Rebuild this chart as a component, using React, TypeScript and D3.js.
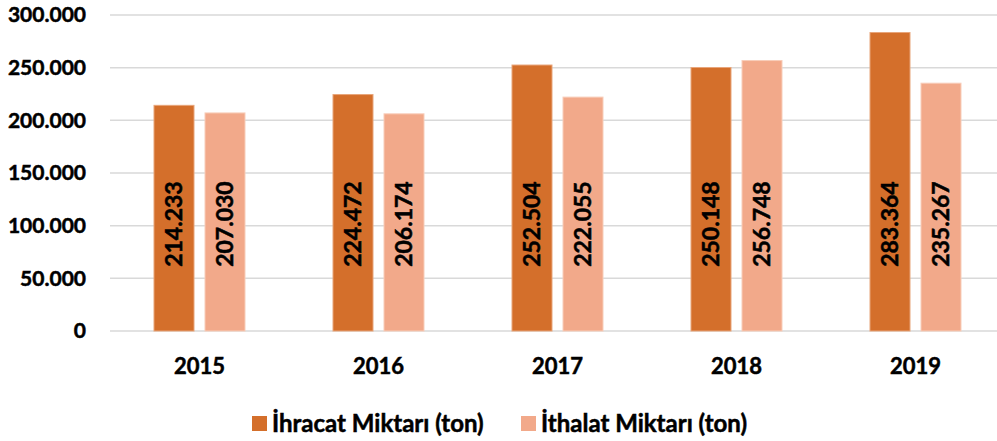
import React, { useEffect, useRef } from "react";
import * as d3 from "d3";

const years = ["2015", "2016", "2017", "2018", "2019"];
const ihracat = [214233, 224472, 252504, 250148, 283364];
const ithalat = [207030, 206174, 222055, 256748, 235267];
const seriesNames = ["İhracat Miktarı (ton)", "İthalat Miktarı (ton)"];
const yTicks = [0, 50000, 100000, 150000, 200000, 250000, 300000];

const colors = ["#D46F2B", "#F2A98A"];
const font = "Lato, 'Open Sans', sans-serif";

export default function App() {
  const ref = useRef<SVGSVGElement>(null);

  useEffect(() => {
    const width = 997;
    const height = 441;
    const svg = d3.select(ref.current);
    svg.selectAll("*").remove();

    const x = d3.scaleBand().domain(years).range([110, 1005]);
    const y = d3.scaleLinear().domain([0, 300000]).range([331, 15]);
    const fmt = (v: number) => d3.format(",")(v).replace(/,/g, ".");

    const bold = (sel: any, size: number) =>
      sel
        .style("font-family", font)
        .style("font-weight", "bold")
        .style("font-size", `${size}px`)
        .attr("fill", "#000")
        .attr("stroke", "#000")
        .attr("stroke-width", 0.5);

    // grid
    svg
      .append("g")
      .selectAll("line")
      .data(yTicks)
      .enter()
      .append("line")
      .attr("x1", 110)
      .attr("x2", width)
      .attr("y1", (d) => y(d))
      .attr("y2", (d) => y(d))
      .attr("stroke", "#d9d9d9")
      .attr("stroke-width", 1.5);

    // y labels
    svg
      .append("g")
      .selectAll("text")
      .data(yTicks)
      .enter()
      .append("text")
      .attr("x", 86)
      .attr("y", (d) => y(d))
      .attr("dy", "0.35em")
      .attr("text-anchor", "end")
      .call(bold, 21)
      .text((d) => fmt(d));

    const barW = 40;
    const gap = 11;
    const series = [ihracat, ithalat];

    series.forEach((vals, si) => {
      const g = svg.append("g");
      const xOff = (i: number) =>
        x(years[i])! + x.bandwidth() / 2 - (barW * 2 + gap) / 2 + si * (barW + gap);

      g.selectAll("rect")
        .data(vals)
        .enter()
        .append("rect")
        .attr("x", (d, i) => xOff(i))
        .attr("y", (d) => y(d))
        .attr("width", barW)
        .attr("height", (d) => y(0) - y(d))
        .attr("fill", colors[si])
        .attr("stroke", si === 0 ? "#e8a57a" : "#f8cdb9")
        .attr("stroke-width", 1);

      g.selectAll("text")
        .data(vals)
        .enter()
        .append("text")
        .attr(
          "transform",
          (d, i) => `translate(${xOff(i) + barW / 2},${y(101500)}) rotate(-90)`
        )
        .attr("text-anchor", "middle")
        .attr("dy", "0.35em")
        .call(bold, 23)
        .text((d) => fmt(d));
    });

    // x labels
    svg
      .append("g")
      .selectAll("text")
      .data(years)
      .enter()
      .append("text")
      .attr("x", (d) => x(d)! + x.bandwidth() / 2)
      .attr("y", 374)
      .attr("text-anchor", "middle")
      .call(bold, 22)
      .text((d) => d);

    // legend
    const legendX = [252, 521];
    const legend = svg
      .append("g")
      .selectAll("g")
      .data(seriesNames)
      .enter()
      .append("g")
      .attr("transform", (d, i) => `translate(${legendX[i]},416)`);
    legend
      .append("rect")
      .attr("width", 15)
      .attr("height", 15)
      .attr("fill", (d, i) => colors[i]);
    legend
      .append("text")
      .attr("x", 20)
      .attr("y", 16)
      .call(bold, 24)
      .text((d) => d);

    svg.attr("width", width).attr("height", height);
  }, []);

  return (
    <svg
      ref={ref}
      width={997}
      height={441}
      style={{ position: "absolute", left: 0, top: 0, background: "#fff" }}
    />
  );
}
